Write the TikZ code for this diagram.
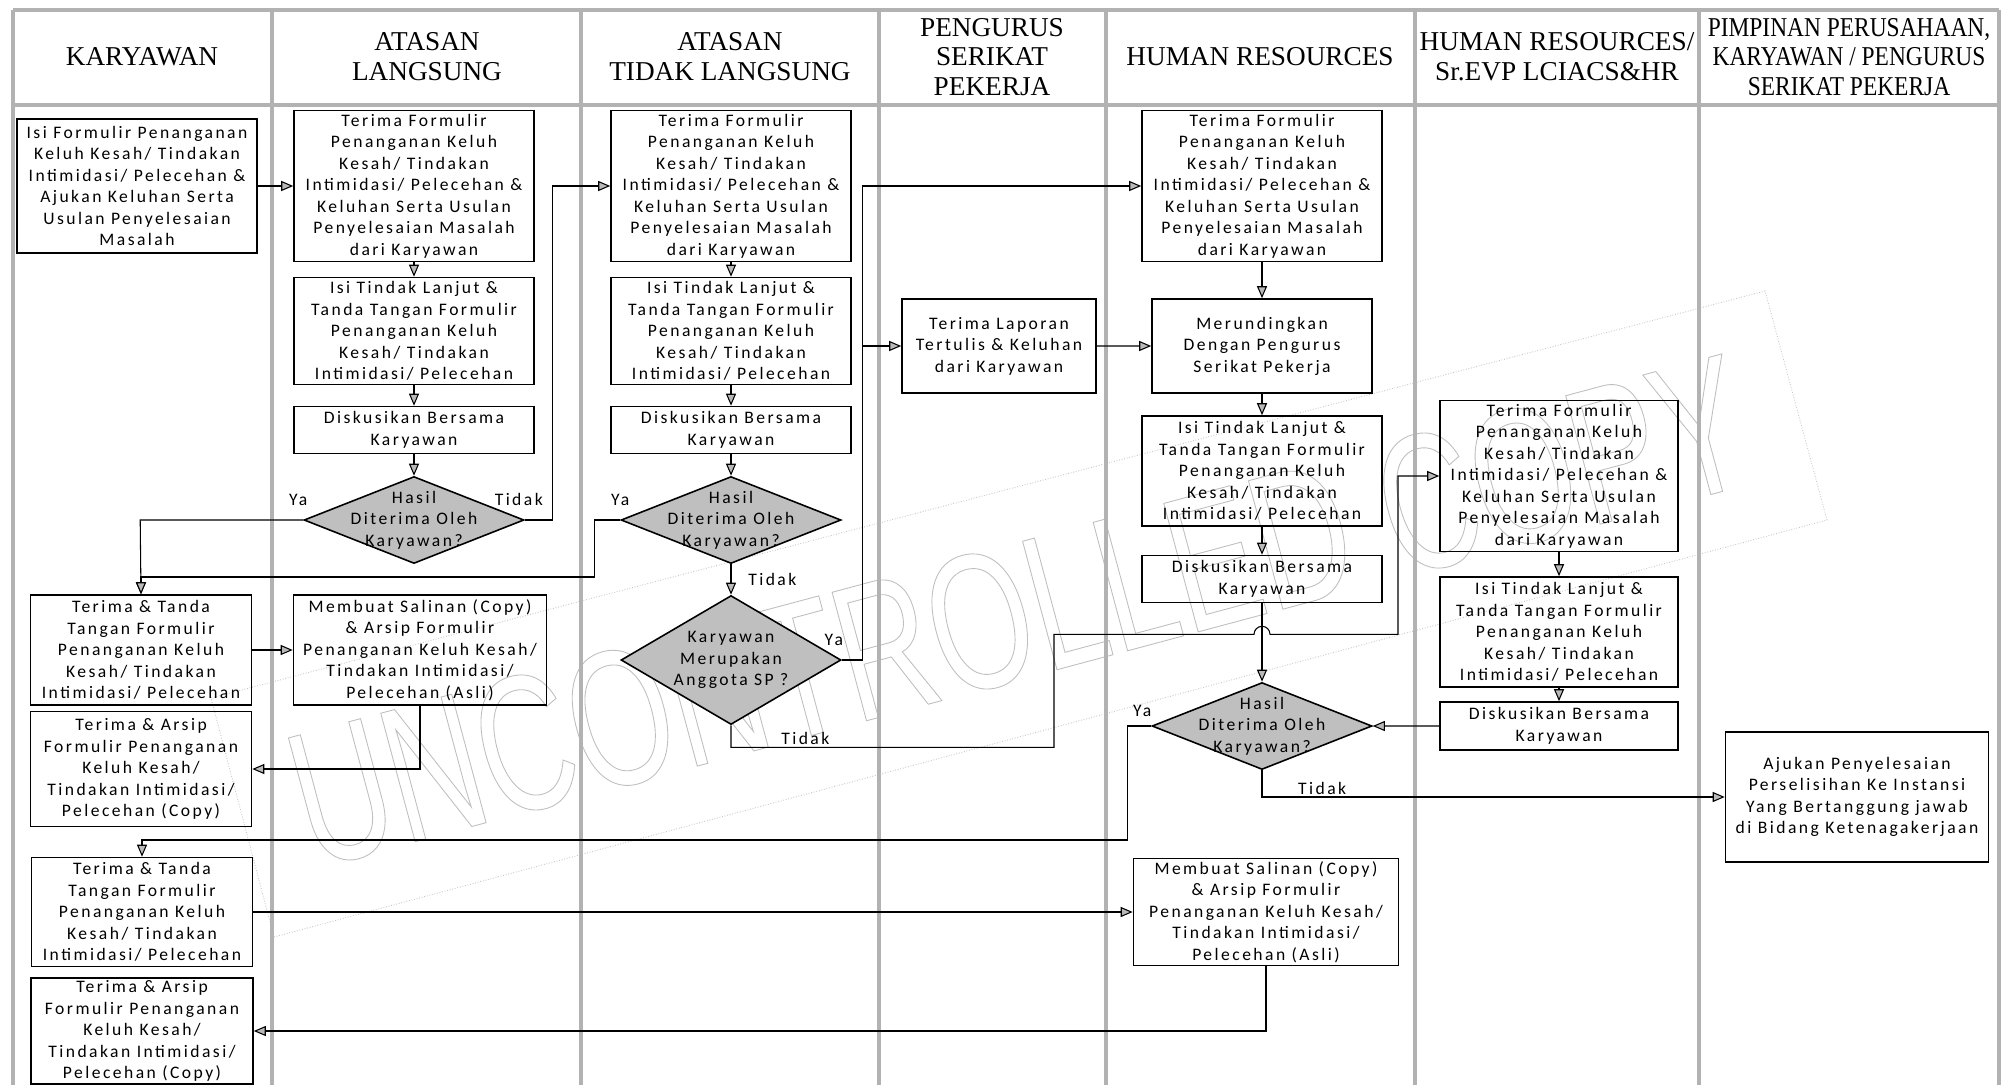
\documentclass[tikz,border=0pt]{standalone}
\usepackage{fontspec}
\setmainfont{Carlito}
\newfontfamily\headfont{Liberation Serif}
\newfontfamily\narrowfont[FakeStretch=0.86]{Liberation Serif}
\newfontfamily\wmfont[FakeStretch=0.68]{Liberation Sans}
\usetikzlibrary{shapes.geometric, arrows.meta, positioning}

\newcommand{\boxfont}{\fontsize{10}{12.2}\selectfont\addfontfeature{LetterSpace=14}}
\newcommand{\outlinetext}[1]{\special{pdf:literal direct 1 Tr 0.5 w}#1\special{pdf:literal direct 0 Tr}}

\begin{document}
\begin{tikzpicture}[x=0.2mm, y=-0.2mm, node distance=29mm]
\tikzstyle{lane} = [draw=gray!60, line width=2.4pt]
\tikzstyle{head} = [align=center, font=\headfont\fontsize{15.5}{17}\selectfont]
\tikzstyle{block} = [rectangle, minimum width=48mm, text centered, align=center, inner sep=0.5mm, draw=black, line width=0.9pt, font=\boxfont]
\tikzstyle{decision} = [diamond, minimum width=44mm, minimum height=17.4mm, inner sep=0pt, draw=black, line width=0.9pt, fill=gray!50]
\tikzstyle{dectext} = [align=center, inner sep=0pt, font=\boxfont]
\tikzstyle{lbl} = [font=\boxfont, inner sep=1pt]
\tikzstyle{line} = [draw, line width=0.6pt, -{Triangle[length=2.4mm, width=2mm, fill=gray!55]}]
\tikzstyle{wmline} = [draw=gray!45, densely dotted, line width=0.5pt]
\tikzstyle{wmtext} = [font=\wmfont\fontsize{110}{110}\selectfont, text=gray!50, rotate=15, inner sep=0pt]

\useasboundingbox (0,0) rectangle (2003,1085);

% stamp
\draw[wmline] (274,937) -- (1827,520) -- (1765,291) -- (211,698) -- cycle;
\node (wm) [wmtext] at (1019,611) {\outlinetext{UNCONTROLLED COPY}};

% swimlanes
\foreach \lx in {13,272,581,879,1106,1415,1699,1999}
  \draw[lane] (\lx,10) -- (\lx,1085);
\draw[lane] (13,10) -- (1999,10);
\draw[lane] (13,105) -- (1999,105);

\node (hkar) [head] at (142,57) {KARYAWAN};
\node (hal) [head] at (427,57) {ATASAN\\LANGSUNG};
\node (hatl) [head] at (730,57) {ATASAN\\TIDAK LANGSUNG};
\node (hpsp) [head] at (992,57) {PENGURUS\\SERIKAT\\PEKERJA};
\node (hhr) [head] at (1260,57) {HUMAN RESOURCES};
\node (hevp) [head] at (1557,57) {HUMAN RESOURCES/\\Sr.EVP LCIACS\&HR};
\node (hpp) [head, font=\narrowfont\fontsize{15.5}{17}\selectfont] at (1849,57) {PIMPINAN PERUSAHAAN,\\KARYAWAN / PENGURUS\\SERIKAT PEKERJA};

% karyawan
\node (k1) [block, minimum height=26.8mm] at (137,186) {Isi Formulir Penanganan\\Keluh Kesah/ Tindakan\\Intimidasi/ Pelecehan \&\\Ajukan Keluhan Serta\\Usulan Penyelesaian\\Masalah};
\node (k2) [block, minimum width=44.2mm, minimum height=22mm] at (141,650) {Terima \& Tanda\\Tangan Formulir\\Penanganan Keluh\\Kesah/ Tindakan\\Intimidasi/ Pelecehan};
\node (k3) [block, minimum width=44.2mm, minimum height=23mm, below of=k2, yshift=5.2mm] {Terima \& Arsip\\Formulir Penanganan\\Keluh Kesah/\\Tindakan Intimidasi/\\Pelecehan (Copy)};
\node (k4) [block, minimum width=44.2mm, minimum height=21.8mm] at (142,912) {Terima \& Tanda\\Tangan Formulir\\Penanganan Keluh\\Kesah/ Tindakan\\Intimidasi/ Pelecehan};
\node (k5) [block, minimum width=44.4mm, minimum height=20.8mm, below of=k4, yshift=5.2mm] {Terima \& Arsip\\Formulir Penanganan\\Keluh Kesah/\\Tindakan Intimidasi/\\Pelecehan (Copy)};

% atasan langsung
\node (al1) [block, minimum height=30.2mm] at (414,186) {Terima Formulir\\Penanganan Keluh\\Kesah/ Tindakan\\Intimidasi/ Pelecehan \&\\Keluhan Serta Usulan\\Penyelesaian Masalah\\dari Karyawan};
\node (al2) [block, minimum height=21.4mm, below of=al1] {Isi Tindak Lanjut \&\\Tanda Tangan Formulir\\Penanganan Keluh\\Kesah/ Tindakan\\Intimidasi/ Pelecehan};
\node (al3) [block, minimum height=9.4mm, below of=al2, yshift=9.2mm] {Diskusikan Bersama\\Karyawan};
\node (ald) [decision, below of=al3, yshift=11mm] {};
\node [dectext] at (ald) {Hasil\\Diterima Oleh\\Karyawan?};
\node (al4) [block, minimum width=50.6mm, minimum height=22mm] at (420,650) {Membuat Salinan (Copy)\\\& Arsip Formulir\\Penanganan Keluh Kesah/\\Tindakan Intimidasi/\\Pelecehan (Asli)};

% atasan tidak langsung
\node (atl1) [block, minimum height=30.2mm, right of=al1, xshift=34.4mm] {Terima Formulir\\Penanganan Keluh\\Kesah/ Tindakan\\Intimidasi/ Pelecehan \&\\Keluhan Serta Usulan\\Penyelesaian Masalah\\dari Karyawan};
\node (atl2) [block, minimum height=21.4mm, below of=atl1] {Isi Tindak Lanjut \&\\Tanda Tangan Formulir\\Penanganan Keluh\\Kesah/ Tindakan\\Intimidasi/ Pelecehan};
\node (atl3) [block, minimum height=9.4mm, below of=atl2, yshift=9.2mm] {Diskusikan Bersama\\Karyawan};
\node (atld) [decision, below of=atl3, yshift=11mm] {};
\node [dectext] at (atld) {Hasil\\Diterima Oleh\\Karyawan?};
\node (atlsp) [decision, minimum height=25.8mm, below of=atld, yshift=1mm] {};
\node [dectext] at (atlsp) {Karyawan\\Merupakan\\Anggota SP ?};

% pengurus serikat pekerja
\node (psp1) [block, minimum width=38.8mm, minimum height=18.8mm] at (999,346) {Terima Laporan\\Tertulis \& Keluhan\\dari Karyawan};

% human resources
\node (hr1) [block, minimum height=30.2mm] at (1262,186) {Terima Formulir\\Penanganan Keluh\\Kesah/ Tindakan\\Intimidasi/ Pelecehan \&\\Keluhan Serta Usulan\\Penyelesaian Masalah\\dari Karyawan};
\node (hr2) [block, minimum width=44mm, minimum height=18.8mm, below of=hr1, yshift=-3mm] {Merundingkan\\Dengan Pengurus\\Serikat Pekerja};
\node (hr3) [block, minimum height=22mm, below of=hr2, yshift=4mm] {Isi Tindak Lanjut \&\\Tanda Tangan Formulir\\Penanganan Keluh\\Kesah/ Tindakan\\Intimidasi/ Pelecehan};
\node (hr4) [block, minimum height=9.4mm, below of=hr3, yshift=7.4mm] {Diskusikan Bersama\\Karyawan};
\node (hrd) [decision, below of=hr4, yshift=-0.4mm] {};
\node [dectext] at (hrd) {Hasil\\Diterima Oleh\\Karyawan?};
\node (hr5) [block, minimum width=53mm, minimum height=21.4mm] at (1266,912) {Membuat Salinan (Copy)\\\& Arsip Formulir\\Penanganan Keluh Kesah/\\Tindakan Intimidasi/\\Pelecehan (Asli)};

% human resources / sr. evp
\node (ev1) [block, minimum width=47.6mm, minimum height=30.2mm] at (1559,476) {Terima Formulir\\Penanganan Keluh\\Kesah/ Tindakan\\Intimidasi/ Pelecehan \&\\Keluhan Serta Usulan\\Penyelesaian Masalah\\dari Karyawan};
\node (ev2) [block, minimum width=47.6mm, minimum height=22mm, below of=ev1, yshift=-2.2mm] {Isi Tindak Lanjut \&\\Tanda Tangan Formulir\\Penanganan Keluh\\Kesah/ Tindakan\\Intimidasi/ Pelecehan};
\node (ev3) [block, minimum width=47.6mm, minimum height=9.6mm, below of=ev2, yshift=10.2mm] {Diskusikan Bersama\\Karyawan};

% pimpinan
\node (pp1) [block, minimum width=52.6mm, minimum height=26mm] at (1857,797) {Ajukan Penyelesaian\\Perselisihan Ke Instansi\\Yang Bertanggung jawab\\di Bidang Ketenagakerjaan};

% connectors
\path [line] (k1) -- (al1);
\path [line] (al1) -- (al2);
\path [line] (al2) -- (al3);
\path [line] (al3) -- (ald);
\path [line] (ald.west) -- node [lbl, pos=0, above, xshift=-1mm, yshift=2.5mm] {Ya} ++(-163,0) -- (k2.north);
\path [line] (ald.east) -- node [lbl, pos=0, above, xshift=-1.2mm, yshift=2.5mm] {Tidak} ++(28,0) |- (atl1.west);
\path [line] (k2) -- (al4);
\path [line] (al4.south) |- (k3.east);

\path [line] (atl1) -- (atl2);
\path [line] (atl2) -- (atl3);
\path [line] (atl3) -- (atld);
\path [line] (atld.west) -- node [lbl, pos=0, above, yshift=2.5mm] {Ya} ++(-26,0) -- ++(0,57) -| (k2.north);
\path [line] (atld) -- node [lbl, right, xshift=3mm] {Tidak} (atlsp);
\path [line] (atlsp.east) -- node [lbl, pos=0, above, xshift=-1.6mm, yshift=2.5mm] {Ya} ++(21,0) |- (hr1.west);
\path [line] (atlsp.east) -- ++(21,0) |- (psp1.west);
\path [line] (atlsp.south) -- ++(0,22) -- node [lbl, pos=0.23, above] {Tidak} ++(323,0) -- ++(0,-113) -- ++(200,0)
  arc [start angle=180, end angle=0, radius=1.6mm] -- ++(128,0) |- (ev1.west);

\path [line] (psp1) -- (hr2);
\path [line] (hr1) -- (hr2);
\path [line] (hr2) -- (hr3);
\path [line] (hr3) -- (hr4);
\path [line] (hr4) -- (hrd);
\path [line] (hrd.west) -- node [lbl, pos=0, above, xshift=-1.8mm, yshift=1.5mm] {Ya} ++(-24,0) -- ++(0,114) -| (k4.north);
\path [line] (hrd.south) |- node [lbl, pos=0.565, above] {Tidak} (pp1.west);
\path [line] (k4.east) -- (k4.east -| hr5.west);
\path [line] (hr5.south) |- (k5.east);

\path [line] (ev1) -- (ev2);
\path [line] (ev2) -- (ev3);
\path [line] (ev3) -- (hrd);

\end{tikzpicture}
\end{document}
